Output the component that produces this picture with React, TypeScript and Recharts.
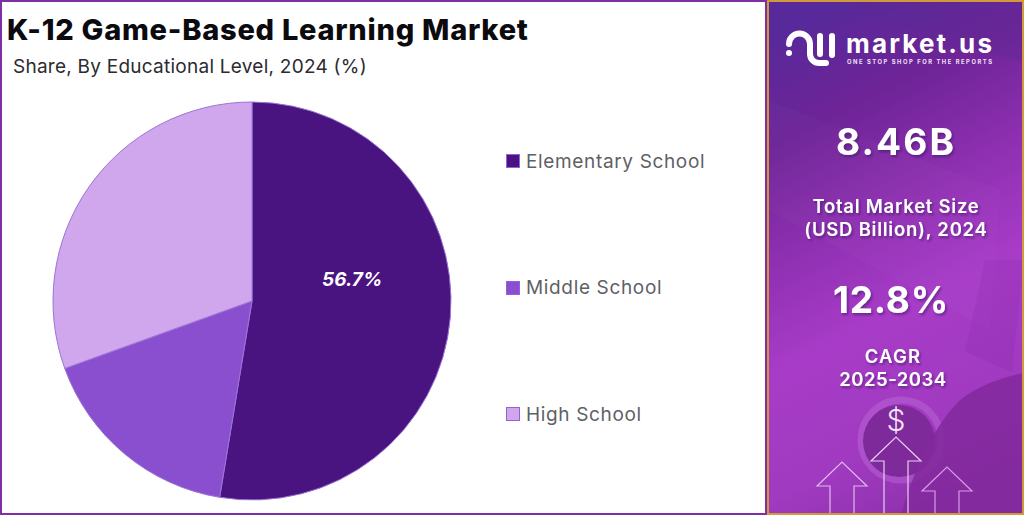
import { Legend, Pie, PieChart, Cell, LabelList } from "recharts";

const categories = ["Elementary School", "Middle School", "High School"];
// shares as drawn in the picture (the printed 56.7% label is kept as text below)
const shares = [52.6, 16.9, 30.5];
const sliceLabels = ["56.7%", "", ""];
const colors = ["#4a1480", "#8a4fcf", "#d0a6ec"];
const chartTitle = "K-12 Game-Based Learning Market";
const chartSubtitle = "Share, By Educational Level, 2024 (%)";
const marketSize = "8.46B";
const marketSizeLines = ["Total Market Size", "(USD Billion), 2024"];
const cagr = "12.8%";
const cagrLines = ["CAGR", "2025-2034"];

const data = categories.map((name, i) => ({
  name,
  value: shares[i],
  label: sliceLabels[i],
}));

const FONT = "Inter, 'Open Sans', sans-serif";

function LegendRows({ payload }: any) {
  return (
    <div style={{ fontFamily: FONT }}>
      {(payload || []).map((entry: any) => (
        <div
          key={entry.value}
          style={{
            display: "flex",
            alignItems: "center",
            height: 126.5,
            fontSize: 19,
            color: "#5f5f66",
            letterSpacing: 0.65,
            whiteSpace: "nowrap",
          }}
        >
          <span
            style={{
              width: 14,
              height: 14,
              boxSizing: "border-box",
              marginRight: 6,
              background: entry.color,
              border: "1px solid #9a5fd8",
              display: "inline-block",
            }}
          />
          {entry.value}
        </div>
      ))}
    </div>
  );
}

function Arrow({ x, top, color }: { x: number; top: number; color: string }) {
  const d = `M${x - 12} 515 V${top + 24} H${x - 25} L${x} ${top} L${x + 25} ${top + 24} H${x + 12} V515`;
  return <path d={d} fill="none" stroke={color} strokeWidth={1.2} />;
}

function PanelText({ x = 896, y, size, weight = 600, spacing = 0, children }: any) {
  return (
    <text
      x={x}
      y={y}
      textAnchor="middle"
      fill="#fff"
      fontFamily={FONT}
      fontWeight={weight}
      fontSize={size}
      letterSpacing={spacing}
      filter="url(#txtShadow)"
    >
      {children}
    </text>
  );
}

function SidePanel() {
  return (
    <svg
      width={256}
      height={515}
      viewBox="768 0 256 515"
      style={{ position: "absolute", left: 768, top: 0 }}
    >
      <defs>
        <linearGradient id="panelBg" x1="0.3" y1="0" x2="0.55" y2="1">
          <stop offset="0" stopColor="#57299a" />
          <stop offset="0.2" stopColor="#6e2497" />
          <stop offset="0.42" stopColor="#8f30b2" />
          <stop offset="0.62" stopColor="#a83cc8" />
          <stop offset="0.85" stopColor="#a03ac0" />
          <stop offset="1" stopColor="#8f32ae" />
        </linearGradient>
        <filter id="txtShadow" x="-10%" y="-10%" width="120%" height="130%">
          <feDropShadow dx="1.5" dy="2" stdDeviation="1.2" floodColor="#3a1060" floodOpacity="0.55" />
        </filter>
      </defs>
      <rect x={768} y={0} width={256} height={515} fill="url(#panelBg)" />
      <path d="M845 0 L1024 0 L1024 62 L950 45 Z" fill="#5a2a96" opacity={0.3} />
      <path d="M768 100 L1000 190 L990 330 L768 210 Z" fill="#ffffff" opacity={0.02} />
      <path d="M985 260 L1024 260 L1012 372 L965 352 Z" fill="#7a2298" opacity={0.15} />
      <ellipse cx={901} cy={440} rx={40} ry={40} fill="none" stroke="#c77ae0" strokeWidth={7} opacity={0.35} />
      <circle cx={899} cy={441} r={36} fill="#7e2a9a" />
      <path d="M901 515 C915 465 935 425 960 400 C980 385 1000 378 1024 373 L1024 515 Z" fill="#82299c" opacity={0.85} />

      {/* logo */}
      <g fill="none" stroke="#fff" strokeWidth={6} strokeLinecap="round">
        <path d="M789 44 A10.5 10.5 0 0 1 810 44 V54 A9 9 0 0 0 819 63 H826" />
        <path d="M820 36 V54" />
        <path d="M832 36 V55" />
      </g>
      <circle cx={789} cy={53} r={3} fill="#fff" />
      <text x={846} y={53} fill="#fff" fontFamily={FONT} fontWeight={700} fontSize={26} textLength={146}>
        market.us
      </text>
      <text x={847} y={63.5} fill="#f0e0f8" fontFamily={FONT} fontWeight={700} fontSize={5.8} textLength={145}>
        ONE STOP SHOP FOR THE REPORTS
      </text>

      <PanelText y={155} size={37} weight={700} spacing={2.2}>{marketSize}</PanelText>
      <PanelText y={213} size={18.5} spacing={0.75}>{marketSizeLines[0]}</PanelText>
      <PanelText y={236} size={18.5} spacing={0.75}>{marketSizeLines[1]}</PanelText>
      <PanelText x={891} y={313} size={37} weight={700} spacing={0.8}>{cagr}</PanelText>
      <PanelText x={893} y={363} size={18.5} spacing={1.2}>{cagrLines[0]}</PanelText>
      <PanelText x={893} y={386} size={18.5} spacing={0.5}>{cagrLines[1]}</PanelText>

      <text x={896} y={431} textAnchor="middle" fill="#f5e6fa" fontFamily={FONT} fontWeight={300} fontSize={30}>
        $
      </text>
      <Arrow x={842} top={462} color="#e2b9ee" />
      <Arrow x={896} top={437} color="#eccdf4" />
      <Arrow x={947} top={467} color="#d79ce8" />
    </svg>
  );
}

export default function App() {
  return (
    <div
      style={{
        position: "absolute",
        left: 0,
        top: 0,
        width: 1024,
        height: 521,
        background: "#fff",
        overflow: "hidden",
        fontFamily: FONT,
      }}
    >
      <PieChart
        width={768}
        height={515}
        margin={{ top: 0, right: 0, bottom: 0, left: 0 }}
        style={{ position: "absolute", left: 0, top: 0 }}
      >
        <Pie
          data={data}
          dataKey="value"
          nameKey="name"
          cx={252}
          cy={301}
          outerRadius={199}
          startAngle={90}
          endAngle={-270}
          stroke="#9a74d6"
          strokeWidth={1}
          labelLine={false}
          isAnimationActive={false}
        >
          {data.map((d, i) => (
            <Cell key={d.name} fill={colors[i]} />
          ))}
          <LabelList
            dataKey="label"
            position="inside"
            fill="#fff"
            stroke="none"
            fontFamily={FONT}
            fontStyle="italic"
            fontWeight={700}
            fontSize={19}
            dx={1}
            dy={-30}
          />
        </Pie>
        <Legend
          layout="vertical"
          align="center"
          verticalAlign="middle"
          itemSorter={null}
          wrapperStyle={{ left: 506, top: 98, width: 240 }}
          content={<LegendRows />}
        />
      </PieChart>

      <div
        style={{
          position: "absolute",
          left: 7,
          top: 12,
          fontSize: 29,
          fontWeight: 800,
          color: "#0b0b0f",
          whiteSpace: "nowrap",
          letterSpacing: 0.75,
        }}
      >
        {chartTitle}
      </div>
      <div
        style={{
          position: "absolute",
          left: 13,
          top: 55,
          fontSize: 19,
          color: "#2b2b30",
          whiteSpace: "nowrap",
          letterSpacing: 0.25,
        }}
      >
        {chartSubtitle}
      </div>

      <SidePanel />

      <div
        style={{
          position: "absolute",
          left: 0,
          top: 0,
          width: 767,
          height: 515,
          boxSizing: "border-box",
          border: "2px solid #7e2fa6",
          pointerEvents: "none",
        }}
      />
      <div
        style={{
          position: "absolute",
          left: 767,
          top: 0,
          width: 257,
          height: 515,
          boxSizing: "border-box",
          border: "2px solid #d3983a",
          pointerEvents: "none",
        }}
      />
    </div>
  );
}
